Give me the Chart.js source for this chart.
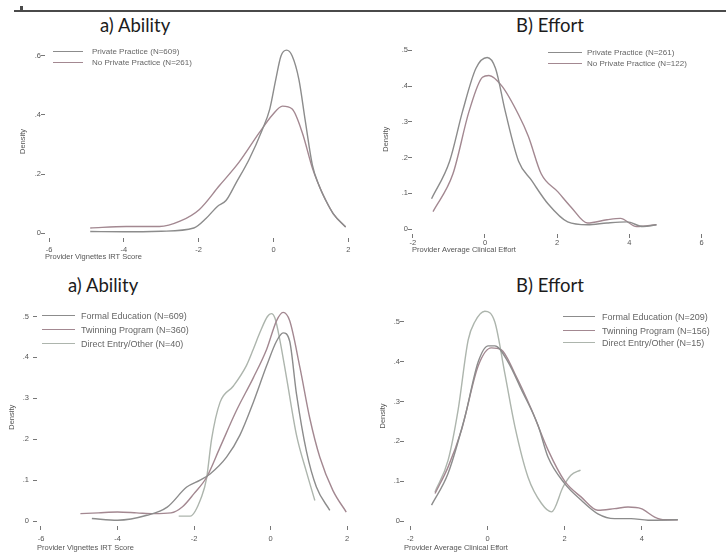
<!DOCTYPE html>
<html lang="en">
<head>
<meta charset="UTF-8">
<title>Provider ability and effort densities</title>
<script src="https://cdn.jsdelivr.net/npm/chart.js"></script>
<style>
    body { margin: 0; width: 726px; height: 556px; position: relative; overflow: hidden; background: #fff; font-family: "Liberation Sans", Arial, sans-serif; }
    canvas { position: absolute; }
    .titulo { position: absolute; font-family: Lato, "Open Sans", sans-serif; font-size: 18.5px; line-height: 18px; color: #1c1c1c; white-space: nowrap; }
    .legenda { position: absolute; color: #666; white-space: nowrap; }
    .legenda div { position: absolute; left: 0; white-space: nowrap; }
    .legenda span.amostra { position: absolute; left: 0; height: 0; }
    .linha-topo { position: absolute; left: 14px; top: 10px; width: 712px; height: 2px; background: #4a4a4a; }
    .marca-topo { position: absolute; left: 20px; top: 6px; width: 3px; height: 4px; background: #4a4a4a; }
</style>
</head>
<body>
<div class="linha-topo"></div>
<div class="marca-topo"></div>

<canvas id="p1" width="363" height="228"></canvas>
<canvas id="p2" width="363" height="228"></canvas>
<canvas id="p3" width="363" height="256"></canvas>
<canvas id="p4" width="363" height="256"></canvas>

<script>
// tick labels
const abilityTicksX = [-6, -4, -2, 0, 2];
const effortTicksX = [-2, 0, 2, 4, 6];
const effortTicksX2 = [-2, 0, 2, 4];
const densityTicksTop = [0, 0.2, 0.4, 0.6];
const densityTicks = [0, 0.1, 0.2, 0.3, 0.4, 0.5];

const abilityTitle = 'Provider Vignettes IRT Score';
const effortTitle = 'Provider Average Clinical Effort';
const densityTitle = 'Density';

// panel 1: ability by private practice
const p1Names = ['Private Practice (N=609)', 'No Private Practice (N=261)'];
const p1PrivX = [-4.9, -4.0, -3.0, -2.13, -1.8, -1.5, -1.27, -1.0, -0.65, -0.3, -0.1, 0.06, 0.2, 0.35, 0.5, 0.68, 0.85, 1.04, 1.22, 1.4, 1.6, 1.93];
const p1PrivY = [0.005, 0.004, 0.006, 0.017, 0.05, 0.09, 0.11, 0.17, 0.25, 0.35, 0.42, 0.52, 0.6, 0.62, 0.6, 0.52, 0.38, 0.23, 0.16, 0.11, 0.065, 0.02];
const p1NoPrivX = [-4.9, -3.94, -3.05, -2.5, -1.98, -1.45, -0.92, -0.38, -0.03, 0.24, 0.5, 0.77, 1.04, 1.22, 1.4, 1.6, 1.93];
const p1NoPrivY = [0.017, 0.022, 0.022, 0.04, 0.08, 0.16, 0.24, 0.34, 0.40, 0.43, 0.42, 0.34, 0.22, 0.16, 0.11, 0.065, 0.02];

// panel 2: effort by private practice
const p2Names = ['Private Practice (N=261)', 'No Private Practice (N=122)'];
const p2PrivX = [-1.48, -0.98, -0.62, -0.25, 0.06, 0.29, 0.56, 0.93, 1.29, 1.75, 2.29, 2.84, 3.38, 3.93, 4.38, 4.75];
const p2PrivY = [0.085, 0.19, 0.33, 0.45, 0.48, 0.45, 0.33, 0.19, 0.136, 0.07, 0.02, 0.012, 0.017, 0.02, 0.007, 0.012];
const p2NoPrivX = [-1.44, -0.89, -0.44, -0.07, 0.11, 0.47, 0.93, 1.2, 1.56, 2.02, 2.38, 2.84, 3.38, 3.75, 4.2, 4.75];
const p2NoPrivY = [0.049, 0.154, 0.33, 0.425, 0.43, 0.40, 0.32, 0.26, 0.154, 0.104, 0.062, 0.017, 0.026, 0.03, 0.007, 0.012];

// panel 3: ability by training
const p3Names = ['Formal Education (N=609)', 'Twinning Program (N=360)', 'Direct Entry/Other (N=40)'];
const p3FormalX = [-4.67, -4.0, -3.23, -2.7, -2.19, -1.84, -1.58, -1.15, -0.8, -0.45, -0.1, 0.16, 0.33, 0.5, 0.68, 0.94, 1.2, 1.55];
const p3FormalY = [0.006, 0.002, 0.014, 0.034, 0.083, 0.1, 0.115, 0.156, 0.21, 0.29, 0.38, 0.44, 0.46, 0.44, 0.31, 0.17, 0.083, 0.026];
const p3TwinX = [-4.97, -4.5, -4.0, -3.5, -3.06, -2.6, -2.3, -2.0, -1.67, -1.32, -0.89, -0.45, -0.1, 0.16, 0.33, 0.5, 0.77, 1.03, 1.29, 1.63, 1.98];
const p3TwinY = [0.018, 0.02, 0.022, 0.02, 0.018, 0.02, 0.035, 0.067, 0.107, 0.18, 0.27, 0.35, 0.42, 0.49, 0.51, 0.49, 0.375, 0.25, 0.156, 0.075, 0.022];
const p3DirectX = [-2.4, -2.1, -1.8, -1.67, -1.54, -1.32, -0.97, -0.63, -0.45, -0.28, -0.08, 0.02, 0.12, 0.25, 0.42, 0.68, 0.94, 1.16];
const p3DirectY = [0.012, 0.012, 0.06, 0.105, 0.2, 0.29, 0.33, 0.38, 0.42, 0.46, 0.5, 0.507, 0.495, 0.44, 0.35, 0.21, 0.12, 0.05];

// panel 4: effort by training
const p4Names = ['Formal Education (N=209)', 'Twinning Program (N=156)', 'Direct Entry/Other (N=15)'];
const p4FormalX = [-1.45, -1.02, -0.59, -0.24, 0.02, 0.19, 0.53, 0.88, 1.31, 1.57, 2.0, 2.43, 2.86, 3.29, 3.72, 4.16, 4.93];
const p4FormalY = [0.04, 0.12, 0.26, 0.40, 0.44, 0.44, 0.40, 0.33, 0.24, 0.16, 0.094, 0.052, 0.018, 0.006, 0.006, 0.002, 0.003];
const p4TwinX = [-1.36, -1.02, -0.67, -0.24, 0.1, 0.36, 0.71, 1.14, 1.57, 2.0, 2.43, 2.86, 3.29, 3.64, 3.98, 4.33, 4.59, 4.93];
const p4TwinY = [0.069, 0.136, 0.23, 0.39, 0.435, 0.43, 0.37, 0.28, 0.178, 0.10, 0.06, 0.027, 0.031, 0.035, 0.031, 0.01, 0.003, 0.003];
const p4DirectX = [-1.36, -1.02, -0.76, -0.5, -0.33, -0.07, 0.19, 0.45, 0.71, 1.05, 1.4, 1.66, 1.96, 2.16, 2.41];
const p4DirectY = [0.073, 0.153, 0.28, 0.455, 0.50, 0.527, 0.50, 0.37, 0.237, 0.11, 0.044, 0.023, 0.086, 0.115, 0.128];

const lineColors = ['#8c8c8c', '#a38891', '#adb5ad'];

function pontos(xs, ys) {
    return xs.map((v, i) => ({ x: v, y: ys[i] }));
}

function rotuloDensidade(v) {
    if (v === 0) return '0';
    return v.toFixed(1).replace(/^0/, '');
}

// draws one panel; box = canvas on page, area = plot area on page, scale = pixel mapping
function desenharPainel(cfg) {
    const { id, box, area, x0, xUnit, y0, yUnit } = cfg;
    const canvas = document.getElementById(id);
    canvas.style.left = box.x + 'px';
    canvas.style.top = box.y + 'px';

    const xMin = (area.l - x0) / xUnit;
    const xMax = (area.r - x0) / xUnit;
    const yMax = (y0 - area.t) / yUnit;
    const yMin = (y0 - area.b) / yUnit;

    const datasets = cfg.series.map((s, i) => ({
        label: cfg.names[i],
        data: pontos(s[0], s[1]),
        borderColor: lineColors[i],
        borderWidth: 1.4,
        pointRadius: 0,
        fill: false,
        cubicInterpolationMode: 'monotone'
    }));

    new Chart(canvas, {
        type: 'line',
        data: { datasets: datasets },
        options: {
            responsive: false,
            animation: false,
            layout: { padding: { top: area.t - box.y, right: box.x + box.w - area.r, left: 0, bottom: 0 } },
            plugins: { legend: { display: false }, tooltip: { enabled: false } },
            scales: {
                x: {
                    type: 'linear',
                    min: xMin,
                    max: xMax,
                    afterBuildTicks: s => { s.ticks = cfg.xTicks.map(v => ({ value: v })); },
                    afterFit: s => { s.height = box.y + box.h - area.b; },
                    border: { display: false },
                    grid: { drawOnChartArea: false, tickLength: 4, color: '#777' },
                    ticks: { font: { size: 7.5 }, color: '#555', padding: cfg.xPad, maxRotation: 0, autoSkip: false },
                    title: { display: true, text: cfg.xTitle, align: 'start', color: '#555', font: { size: 7.5 }, padding: { top: 0, bottom: cfg.xTitlePad } }
                },
                y: {
                    type: 'linear',
                    min: yMin,
                    max: yMax,
                    afterBuildTicks: s => { s.ticks = cfg.yTicks.map(v => ({ value: v })); },
                    afterFit: s => { s.width = area.l - box.x; },
                    border: { display: false },
                    grid: { drawOnChartArea: false, tickLength: 4, color: '#777' },
                    ticks: { font: { size: 7.5 }, color: '#555', padding: cfg.yPad, callback: v => rotuloDensidade(v) },
                    title: { display: true, text: densityTitle, color: '#555', font: { size: 7.5 }, padding: { top: cfg.yTitlePad, bottom: 0 } }
                }
            }
        }
    });

    // title and legend as html text
    const t = document.createElement('div');
    t.className = 'titulo';
    t.textContent = cfg.title;
    t.style.left = cfg.titlePos[0] + 'px';
    t.style.top = (cfg.titlePos[1] - 9) + 'px';
    document.body.appendChild(t);

    const leg = document.createElement('div');
    leg.className = 'legenda';
    leg.style.left = cfg.legend.x + 'px';
    leg.style.top = '0px';
    leg.style.fontSize = cfg.legend.size + 'px';
    cfg.names.forEach((n, i) => {
        const yc = cfg.legend.rows[i];
        const amostra = document.createElement('span');
        amostra.className = 'amostra';
        amostra.style.top = (yc - 0.7) + 'px';
        amostra.style.width = cfg.legend.sample + 'px';
        amostra.style.borderTop = '1.4px solid ' + lineColors[i];
        leg.appendChild(amostra);
        const txt = document.createElement('div');
        txt.textContent = n;
        txt.style.left = cfg.legend.textDx + 'px';
        txt.style.top = (yc - cfg.legend.size * 0.6) + 'px';
        txt.style.lineHeight = (cfg.legend.size * 1.2) + 'px';
        leg.appendChild(txt);
    });
    document.body.appendChild(leg);
}

desenharPainel({
    id: 'p1', title: 'a) Ability', titlePos: [100, 25],
    box: { x: 0, y: 40, w: 363, h: 228 }, area: { l: 45, r: 355, t: 45, b: 238 },
    x0: 273.5, xUnit: 37.4, y0: 233, yUnit: 295,
    xTicks: abilityTicksX, yTicks: densityTicksTop, xTitle: abilityTitle,
    xPad: 3, yPad: 0, xTitlePad: 6.5, yTitlePad: 18.5,
    names: p1Names, series: [[p1PrivX, p1PrivY], [p1NoPrivX, p1NoPrivY]],
    legend: { x: 53, rows: [52, 63], sample: 30, textDx: 39, size: 8 }
});

desenharPainel({
    id: 'p2', title: 'B) Effort', titlePos: [516, 25],
    box: { x: 363, y: 40, w: 363, h: 228 }, area: { l: 412, r: 712, t: 42, b: 234 },
    x0: 485, xUnit: 36.1, y0: 229, yUnit: 362,
    xTicks: effortTicksX, yTicks: densityTicks, xTitle: effortTitle,
    xPad: 0, yPad: 0, xTitlePad: 13.5, yTitlePad: 18.5,
    names: p2Names, series: [[p2PrivX, p2PrivY], [p2NoPrivX, p2NoPrivY]],
    legend: { x: 548, rows: [53, 64], sample: 34, textDx: 39, size: 8 }
});

desenharPainel({
    id: 'p3', title: 'a) Ability', titlePos: [68, 285],
    box: { x: 0, y: 300, w: 363, h: 256 }, area: { l: 37, r: 357, t: 308, b: 526 },
    x0: 270.5, xUnit: 38.25, y0: 521, yUnit: 410,
    xTicks: abilityTicksX, yTicks: densityTicks, xTitle: abilityTitle,
    xPad: 4, yPad: 4, xTitlePad: 3.5, yTitlePad: 7.5,
    names: p3Names, series: [[p3FormalX, p3FormalY], [p3TwinX, p3TwinY], [p3DirectX, p3DirectY]],
    legend: { x: 42, rows: [316, 330, 344], sample: 33, textDx: 39, size: 9 }
});

desenharPainel({
    id: 'p4', title: 'B) Effort', titlePos: [516, 285],
    box: { x: 363, y: 300, w: 363, h: 256 }, area: { l: 404, r: 715, t: 306, b: 526 },
    x0: 487.5, xUnit: 38.6, y0: 521, yUnit: 398,
    xTicks: effortTicksX2, yTicks: densityTicks, xTitle: effortTitle,
    xPad: 4, yPad: 0, xTitlePad: 3.5, yTitlePad: 15.5,
    names: p4Names, series: [[p4FormalX, p4FormalY], [p4TwinX, p4TwinY], [p4DirectX, p4DirectY]],
    legend: { x: 563, rows: [317, 331, 343], sample: 32, textDx: 39, size: 9 }
});
</script>
</body>
</html>
